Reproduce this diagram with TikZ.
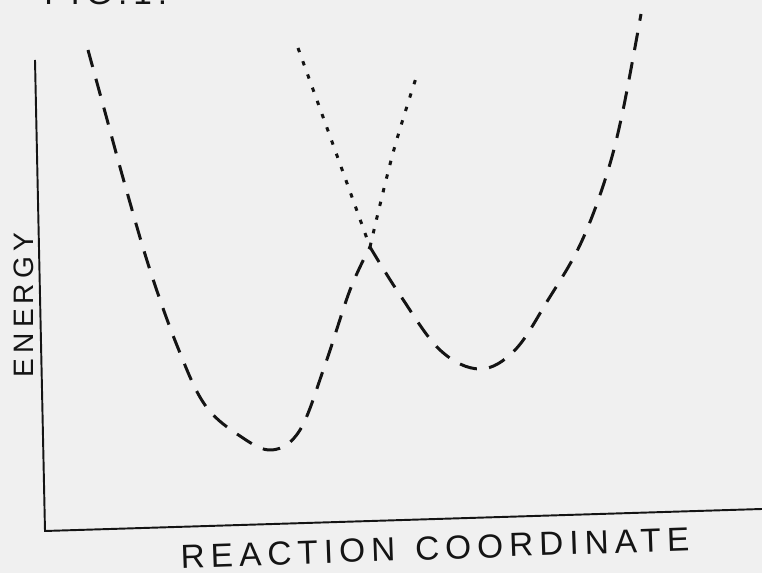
\documentclass[tikz,border=0pt]{standalone}
\usepackage{fontspec}
\usetikzlibrary{calc,backgrounds}
\newfontfamily\stencil[LetterSpace=18]{Liberation Sans}
\definecolor{pen}{HTML}{141414}
\definecolor{sheet}{HTML}{F0F0F0}
\tikzset{axisline/.style={draw=pen,line width=1.1pt},
  dashcurve/.style={draw=pen,line width=1.7pt,dash pattern=on 10pt off 7pt,smooth,tension=.6},
  dotcurve/.style={draw=pen,line width=1.7pt,dash pattern=on 2.5pt off 5.5pt,smooth,tension=.6},
  caption/.style={font=\stencil,text=pen,inner sep=0pt}}

\begin{document}
\begin{tikzpicture}[x=0.02cm,y=-0.02cm]
\fill[sheet] (0,0) rectangle (762,573);
\useasboundingbox (0,0) rectangle (762,573);
% axes
\coordinate (top) at (35,60);
\coordinate (origin) at (45,531);
\coordinate (far) at (762,509);
\draw[axisline] (top) -- (origin) -- (far);
% labels
\node[caption,anchor=base west,font=\stencil\fontsize{19}{19}\selectfont] (fig) at (44,5) {FIG.1.};
\node[caption,rotate=90,font=\stencil\fontsize{16}{16}\selectfont] (energy) at (24,305) {ENERGY};
\node[caption,rotate=2,font=\stencil\fontsize{19}{19}\selectfont] (rc) at (435,548) {REACTION\hspace{0.6em}COORDINATE};
% key points
\coordinate (cross) at (370,247);
\coordinate (minA) at (272,450);
\coordinate (minB) at (480,369);
% reactant curve
\draw[dashcurve] plot coordinates {(88,50) (105,112) (125,185) (150,270) (178,348) (205,405) (240,436) (minA) (300,430) (325,365) (350,290) (cross)};
\draw[dotcurve] plot coordinates {(cross) (393,153) (417,75)};
% product curve
\draw[dotcurve] plot coordinates {(298,48) (335,150) (cross)};
\draw[dashcurve] plot coordinates {(cross) (400,295) (440,350) (minB) (515,350) (548,300) (580,245) (605,180) (622,115) (641,14)};
\end{tikzpicture}
\end{document}
